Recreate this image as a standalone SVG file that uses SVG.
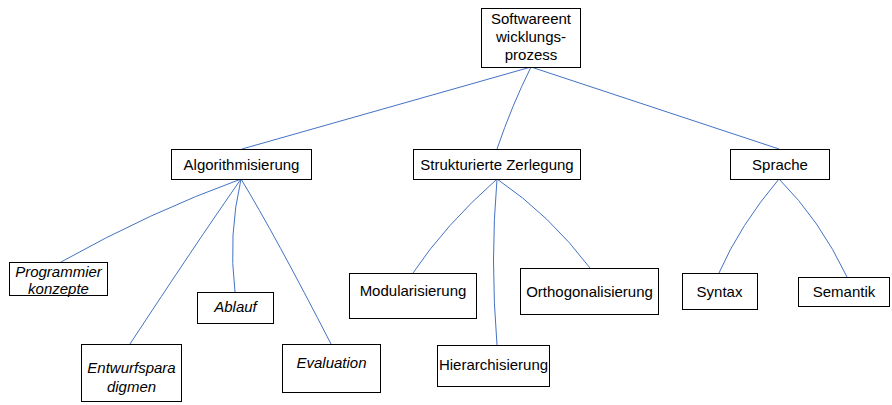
<svg xmlns="http://www.w3.org/2000/svg" width="892" height="405" viewBox="0 0 892 405">
  <style>
    .box { fill: #ffffff; stroke: #000000; stroke-width: 1; }
    .lbl { font-family: "Liberation Sans", Arial, sans-serif; font-size: 15px; fill: #000000; text-anchor: middle; }
    .it { font-style: italic; }
    .edge { fill: none; stroke: #4472C4; stroke-width: 1; }
  </style>
  <rect width="892" height="405" fill="#ffffff"/>

  <!-- connectors -->
  <g id="connectors">
    <path class="edge" d="M531,67 L242,149"/>
    <path class="edge" d="M531,67 Q512,105 497,149"/>
    <path class="edge" d="M531,67 L779,149"/>

    <path class="edge" d="M241,179 Q150,212 61,262"/>
    <path class="edge" d="M241,179 Q195,245 130,344"/>
    <path class="edge" d="M241,179 Q228,235 235,292"/>
    <path class="edge" d="M241,179 Q275,235 331,344"/>

    <path class="edge" d="M497,179 Q445,225 413,273"/>
    <path class="edge" d="M497,179 Q490,260 497,345"/>
    <path class="edge" d="M497,179 Q550,215 590,268"/>

    <path class="edge" d="M779,179 Q740,225 719,273"/>
    <path class="edge" d="M779,179 Q820,220 847,277"/>
  </g>

  <g id="root">
    <rect class="box" x="481.5" y="8.5" width="99" height="59"/>
    <text class="lbl" x="531" y="24">Softwareent</text>
    <text class="lbl" x="531" y="42">wicklungs-</text>
    <text class="lbl" x="531" y="60">prozess</text>
  </g>

  <g id="algorithmisierung">
    <rect class="box" x="171.5" y="149.5" width="140" height="30"/>
    <text class="lbl" x="241.5" y="169.5">Algorithmisierung</text>
  </g>

  <g id="strukturierte-zerlegung">
    <rect class="box" x="413.5" y="149.5" width="167" height="30"/>
    <text class="lbl" x="497" y="169.5">Strukturierte Zerlegung</text>
  </g>

  <g id="sprache">
    <rect class="box" x="730.5" y="149.5" width="99" height="30"/>
    <text class="lbl" x="780" y="169.5">Sprache</text>
  </g>

  <g id="programmierkonzepte">
    <rect class="box" x="9.5" y="262.5" width="98" height="33"/>
    <text class="lbl it" x="58.5" y="277">Programmier</text>
    <text class="lbl it" x="58.5" y="294">konzepte</text>
  </g>

  <g id="entwurfsparadigmen">
    <rect class="box" x="81.5" y="344.5" width="100" height="57"/>
    <text class="lbl it" x="131.5" y="373">Entwurfspara</text>
    <text class="lbl it" x="131.5" y="392">digmen</text>
  </g>

  <g id="ablauf">
    <rect class="box" x="197.5" y="292.5" width="76" height="31"/>
    <text class="lbl it" x="235.5" y="312">Ablauf</text>
  </g>

  <g id="evaluation">
    <rect class="box" x="282.5" y="344.5" width="98" height="48"/>
    <text class="lbl it" x="331.5" y="368">Evaluation</text>
  </g>

  <g id="modularisierung">
    <rect class="box" x="349.5" y="273.5" width="127" height="45"/>
    <text class="lbl" x="413" y="296">Modularisierung</text>
  </g>

  <g id="hierarchisierung">
    <rect class="box" x="437.5" y="345.5" width="112" height="41"/>
    <text class="lbl" x="493.5" y="369.5">Hierarchisierung</text>
  </g>

  <g id="orthogonalisierung">
    <rect class="box" x="520.5" y="268.5" width="138" height="46"/>
    <text class="lbl" x="589.5" y="296.5">Orthogonalisierung</text>
  </g>

  <g id="syntax">
    <rect class="box" x="682.5" y="273.5" width="75" height="36"/>
    <text class="lbl" x="719.5" y="296.5">Syntax</text>
  </g>

  <g id="semantik">
    <rect class="box" x="798.5" y="277.5" width="91" height="29"/>
    <text class="lbl" x="844" y="296.5">Semantik</text>
  </g>
</svg>
